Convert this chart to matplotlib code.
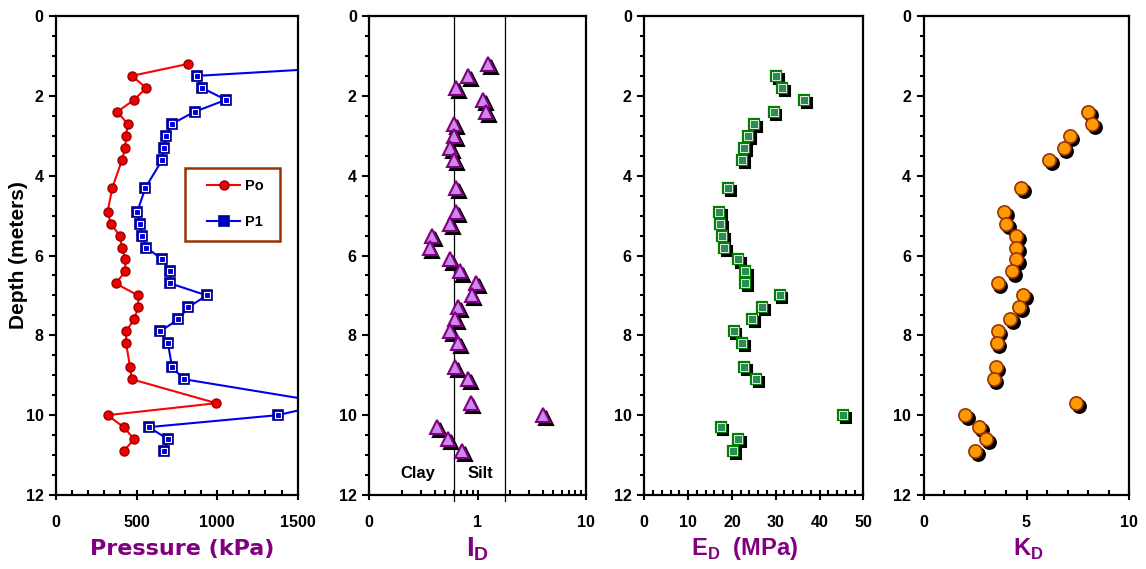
import numpy as np
import matplotlib
matplotlib.use("Agg")
import matplotlib.pyplot as plt
from matplotlib.patches import Rectangle
from matplotlib.ticker import MultipleLocator, FixedLocator, LogLocator, NullFormatter
from matplotlib.transforms import ScaledTranslation

nan = np.nan

# depth of each test (m)
depth = [1.2, 1.5, 1.8, 2.1, 2.4, 2.7, 3.0, 3.3, 3.6, 4.3, 4.9, 5.2, 5.5, 5.8, 6.1,
         6.4, 6.7, 7.0, 7.3, 7.6, 7.9, 8.2, 8.8, 9.1, 9.7, 10.0, 10.3, 10.6, 10.9]
# pressures (kPa)
po = [820, 470, 560, 485, 380, 445, 435, 430, 410, 350, 320, 340, 395, 410, 430,
      430, 370, 510, 510, 485, 435, 435, 460, 470, 995, 320, 420, 485, 420]
p1 = [2150, 875, 905, 1055, 860, 720, 685, 670, 660, 555, 505, 520, 535, 560, 660,
      710, 710, 935, 820, 760, 645, 695, 720, 795, 1700, 1375, 575, 695, 670]
# material index
i_d = [1.25, 0.81, 0.63, 1.13, 1.19, 0.61, 0.61, 0.56, 0.61, 0.63, 0.63, 0.56, 0.38, 0.36, 0.56,
       0.69, 0.96, 0.88, 0.66, 0.62, 0.56, 0.66, 0.62, 0.82, 0.86, 4.0, 0.42, 0.53, 0.72]
# dilatometer modulus (MPa)
e_d = [nan, 30.1, 31.4, 36.5, 29.5, 25.0, 23.7, 22.7, 22.3, 19.1, 17.0, 17.3, 17.8, 18.2, 21.4,
       23.1, 23.1, 30.9, 26.9, 24.7, 20.4, 22.4, 22.7, 25.5, nan, 45.4, 17.4, 21.5, 20.3]
# horizontal stress index
k_d = [nan, nan, nan, nan, 8.0, 8.2, 7.1, 6.8, 6.1, 4.75, 3.9, 4.0, 4.5, 4.5, 4.5,
       4.3, 3.6, 4.85, 4.65, 4.2, 3.6, 3.55, 3.5, 3.4, 7.4, 2.0, 2.7, 3.05, 2.5]

plt.rcParams['font.family'] = ['Liberation Sans', 'DejaVu Sans']
plt.rcParams['mathtext.fontset'] = 'custom'
plt.rcParams['mathtext.rm'] = 'Liberation Sans'
plt.rcParams['mathtext.bf'] = 'Liberation Sans:bold'

purple = '#800080'
W, H = 1146, 569
fig = plt.figure(figsize=(W / 100, H / 100), dpi=100)

# axes boxes in pixels: left, right
boxes = [(56, 297.7), (369.3, 586), (644.3, 863.3), (923.7, 1129.3)]
top, bot = 16, 495
axes = []
for l, r in boxes:
    ax = fig.add_axes([l / W, 1 - bot / H, (r - l) / W, (bot - top) / H])
    ax.set_ylim(12, 0)
    ax.yaxis.set_major_locator(MultipleLocator(2))
    ax.yaxis.set_minor_locator(MultipleLocator(0.5))
    ax.tick_params(axis='y', which='major', direction='out', length=5, width=1.5, pad=4,
                   labelsize=11.5)
    ax.tick_params(axis='y', which='minor', direction='out', length=3, width=1.5)
    ax.tick_params(axis='x', which='major', direction='inout', length=7, width=1.5, pad=11,
                   labelsize=11.5)
    ax.tick_params(axis='x', which='minor', direction='in', length=3.5, width=1.5)
    for s in ax.spines.values():
        s.set_linewidth(1.6)
    axes.append(ax)


def shadow(ax):
    return ax.transData + ScaledTranslation(2 / 72, -2.2 / 72, fig.dpi_scale_trans)


# ---- panel 1 : pressures
ax = axes[0]
ax.set_xlim(0, 1500)
ax.xaxis.set_major_locator(MultipleLocator(500))
ax.xaxis.set_minor_locator(MultipleLocator(100))
l1, = ax.plot(po, depth, '-o', color='red', lw=1.5, ms=6.5, mfc='#ee0000', mec='#990000',
              mew=1, label='Po')
l2, = ax.plot(p1, depth, '-s', color='#0000ee', lw=1.5, ms=7, mfc='#0000cc', mec='#000088',
              mew=1.2, label='P1')
ax.plot(p1, depth, 's', ms=4.6, mfc='#0000dd', mec='white', mew=0.8)
ax.set_ylabel('Depth (meters)', fontsize=15, fontweight='bold', labelpad=-2)

# legend box
ax.add_patch(Rectangle((0.534, 0.530), 0.393, 0.153, transform=ax.transAxes, fill=True,
                       facecolor='white', edgecolor='#993300', lw=1.8, zorder=5))
leg = ax.legend(handles=[l1, l2], loc='upper left', bbox_to_anchor=(0.625, 0.660),
                frameon=False, numpoints=1, handlelength=2.27, labelspacing=1.5,
                borderpad=0, handletextpad=0.3, borderaxespad=0,
                prop={'weight': 'bold', 'size': 10.5})
leg.set_zorder(6)

# ---- panel 2 : I_D
ax = axes[1]
ax.set_xscale('log')
ax.set_xlim(0.1, 10)
ax.xaxis.set_major_locator(FixedLocator([0.1, 1, 10]))
ax.set_xticklabels(['0', '1', '10'])
ax.xaxis.set_minor_locator(LogLocator(base=10, subs=np.arange(2, 10)))
ax.xaxis.set_minor_formatter(NullFormatter())
for xv in [0.6, 1.8]:
    ax.plot([xv, xv], [12.15, 0], color='black', lw=0.9, clip_on=False)
ax.plot(i_d, depth, '^', ms=10.5, mfc='black', mec='black', mew=1.5, transform=shadow(ax))
ax.plot(i_d, depth, '^', ms=10.5, mfc='#cc88ee', mec=purple, mew=1.5)
ax.text(0.28, 11.45, 'Clay', ha='center', va='center', fontsize=12, fontweight='bold')
ax.text(1.05, 11.45, 'Silt', ha='center', va='center', fontsize=12, fontweight='bold')

# ---- panel 3 : E_D
ax = axes[2]
ax.set_xlim(0, 50)
ax.xaxis.set_major_locator(MultipleLocator(10))
ax.xaxis.set_minor_locator(MultipleLocator(2))
ax.plot(e_d, depth, 's', ms=7.5, mfc='black', mec='black', mew=1.5, transform=shadow(ax))
ax.plot(e_d, depth, 's', ms=7.5, mfc='#2e8b57', mec='#008000', mew=1.6)
ax.plot(e_d, depth, 's', ms=5.2, mfc='none', mec='white', mew=0.6)
ax.plot(e_d, depth, 's', ms=4.2, mfc='#2e8b57', mec='none')

# ---- panel 4 : K_D
ax = axes[3]
ax.set_xlim(0, 10)
ax.xaxis.set_major_locator(MultipleLocator(5))
ax.xaxis.set_minor_locator(MultipleLocator(1))
ax.plot(k_d, depth, 'o', ms=9.5, mfc='black', mec='black', mew=1.2, transform=shadow(ax))
ax.plot(k_d, depth, 'o', ms=9.5, mfc='#ff9900', mec='#993300', mew=1.2)

for ax in axes:
    for t in ax.get_xticklabels() + ax.get_yticklabels():
        t.set_fontweight('bold')

# x axis titles
ly = 1 - 549 / H
fig.text(182 / W, ly, 'Pressure (kPa)', ha='center', va='center', color=purple,
         fontsize=16, fontweight='bold', family='DejaVu Sans')
fig.text(478 / W, ly, r'$\mathbf{I}_{\mathbf{D}}$', ha='center', va='center', color=purple,
         fontsize=20)
fig.text(744 / W, ly, r'$\mathbf{E}_{\mathbf{D}}$  (MPa)', ha='center', va='center',
         color=purple, fontsize=17, fontweight='bold')
fig.text(1028 / W, ly, r'$\mathbf{K}_{\mathbf{D}}$', ha='center', va='center', color=purple,
         fontsize=17)

fig.savefig('out.png', dpi=100)
